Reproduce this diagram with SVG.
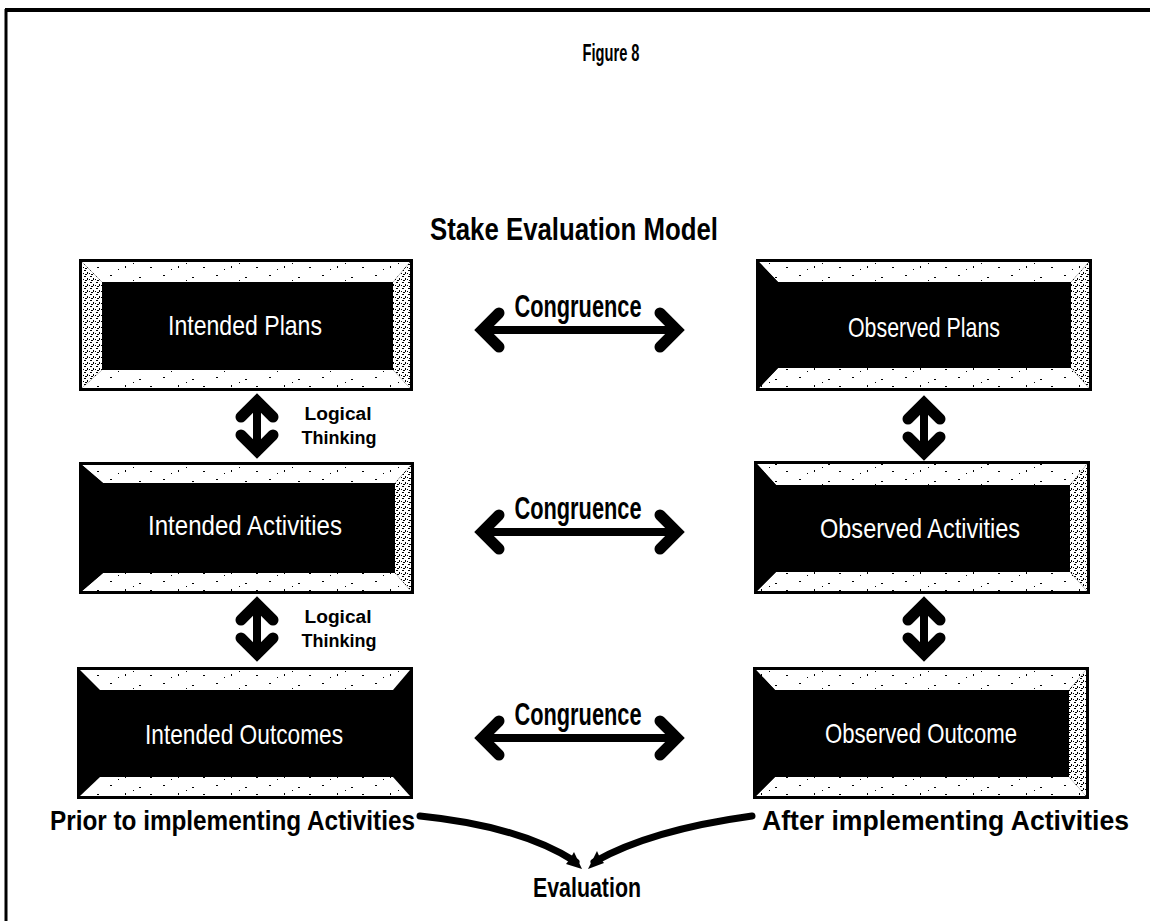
<svg xmlns="http://www.w3.org/2000/svg" width="1150" height="921" viewBox="0 0 1150 921">
<defs>
<pattern id="speck" width="6" height="6" patternUnits="userSpaceOnUse">
<rect width="6" height="6" fill="#fff"/>
<rect x="0" y="0" width="2" height="1" fill="#000"/>
<rect x="3" y="2" width="1" height="2" fill="#000"/>
<rect x="1" y="4" width="2" height="1" fill="#000"/>
<rect x="5" y="3" width="1" height="1" fill="#000"/>
</pattern>
<pattern id="sparse" width="53" height="17" patternUnits="userSpaceOnUse">
<rect width="53" height="17" fill="#fff"/>
<rect x="4" y="3" width="2" height="1" fill="#000"/>
<rect x="19" y="11" width="1" height="2" fill="#000"/>
<rect x="33" y="5" width="2" height="1" fill="#000"/>
<rect x="12" y="14" width="1" height="1" fill="#000"/>
<rect x="44" y="12" width="2" height="1" fill="#000"/>
<rect x="27" y="8" width="1" height="1" fill="#000"/>
</pattern>
<style>
.frame{fill:none;stroke:#000}
.outer{fill:#000;stroke:#000;stroke-width:2}
.bev{fill:url(#sparse)}
.side{fill:url(#speck)}
.dark{fill:#000}
.inner{fill:#000}
.lbl{font-family:"Liberation Sans",Arial,sans-serif;font-size:28px;fill:#fff;text-anchor:middle}
.bold{font-family:"Liberation Sans",Arial,sans-serif;font-weight:bold;fill:#000}
.shaft{stroke:#000;stroke-width:8;fill:none}
.head{stroke:#000;stroke-width:11;fill:none;stroke-linecap:round;stroke-linejoin:miter}
.curve{stroke:#000;stroke-width:7;fill:none;stroke-linecap:round}
</style>
</defs>
<rect width="1150" height="921" fill="#fff"/>
<g id="border">
<line class="frame" x1="5" y1="10" x2="1150" y2="10" stroke-width="4"/>
<line class="frame" x1="6" y1="9" x2="6" y2="921" stroke-width="3"/>
</g>
<g id="titles">
<text class="bold" x="611" y="61" font-size="24" text-anchor="middle" textLength="57" lengthAdjust="spacingAndGlyphs">Figure 8</text>
<text class="bold" x="574" y="240" font-size="31" text-anchor="middle" textLength="288" lengthAdjust="spacingAndGlyphs">Stake Evaluation Model</text>
</g>
<g id="intended-plans">
<rect class="outer" x="80" y="260" width="332" height="130"/>
<polygon class="bev" points="82,262 410,262 393,282 102,282"/>
<polygon class="bev" points="82,388 410,388 393,370 102,370"/>
<polygon class="side" points="82,262 102,282 102,370 82,388"/>
<polygon class="side" points="410,262 393,282 393,370 410,388"/>
<rect class="inner" x="102" y="282" width="291" height="88"/>
<text class="lbl" x="245" y="335" textLength="154" lengthAdjust="spacingAndGlyphs">Intended Plans</text>
</g>
<g id="intended-activities">
<rect class="outer" x="80" y="463" width="333" height="130"/>
<polygon class="bev" points="82,465 411,465 395,483 103,483"/>
<polygon class="bev" points="82,591 411,591 395,573 103,573"/>
<polygon class="dark" points="82,465 103,483 103,573 82,591"/>
<polygon class="side" points="411,465 395,483 395,573 411,591"/>
<rect class="inner" x="103" y="483" width="292" height="90"/>
<text class="lbl" x="245" y="535" textLength="194" lengthAdjust="spacingAndGlyphs">Intended Activities</text>
</g>
<g id="intended-outcomes">
<rect class="outer" x="78" y="668" width="334" height="130"/>
<polygon class="bev" points="80,670 410,670 393,690 100,690"/>
<polygon class="bev" points="80,796 410,796 393,777 100,777"/>
<rect class="inner" x="80" y="690" width="330" height="87"/>
<text class="lbl" x="244" y="744" textLength="198" lengthAdjust="spacingAndGlyphs">Intended Outcomes</text>
</g>
<g id="observed-plans">
<rect class="outer" x="757" y="260" width="334" height="130"/>
<polygon class="bev" points="759,262 1089,262 1071,282 778,282"/>
<polygon class="bev" points="759,388 1089,388 1071,368 778,368"/>
<polygon class="dark" points="759,262 778,282 778,368 759,388"/>
<polygon class="side" points="1089,262 1071,282 1071,368 1089,388"/>
<rect class="inner" x="778" y="282" width="293" height="86"/>
<text class="lbl" x="924" y="337" textLength="152" lengthAdjust="spacingAndGlyphs">Observed Plans</text>
</g>
<g id="observed-activities">
<rect class="outer" x="755" y="462" width="334" height="131"/>
<polygon class="bev" points="757,464 1087,464 1070,485 776,485"/>
<polygon class="bev" points="757,591 1087,591 1070,572 776,572"/>
<polygon class="dark" points="757,464 776,485 776,572 757,591"/>
<polygon class="side" points="1087,464 1070,485 1070,572 1087,591"/>
<rect class="inner" x="776" y="485" width="294" height="87"/>
<text class="lbl" x="920" y="538" textLength="200" lengthAdjust="spacingAndGlyphs">Observed Activities</text>
</g>
<g id="observed-outcome">
<rect class="outer" x="754" y="668" width="334" height="130"/>
<polygon class="bev" points="756,670 1086,670 1069,690 775,690"/>
<polygon class="bev" points="756,796 1086,796 1069,777 775,777"/>
<polygon class="dark" points="756,670 775,690 775,777 756,796"/>
<polygon class="side" points="1086,670 1069,690 1069,777 1086,796"/>
<rect class="inner" x="775" y="690" width="294" height="87"/>
<text class="lbl" x="921" y="743" textLength="192" lengthAdjust="spacingAndGlyphs">Observed Outcome</text>
</g>
<g id="connectors">
<g id="congruence-1">
<line class="shaft" x1="482" y1="330" x2="677" y2="330"/>
<path class="head" d="M499 313 L482 330 L499 347"/>
<path class="head" d="M660 313 L677 330 L660 347"/>
</g>
<g id="congruence-2">
<line class="shaft" x1="482" y1="532" x2="677" y2="532"/>
<path class="head" d="M499 515 L482 532 L499 549"/>
<path class="head" d="M660 515 L677 532 L660 549"/>
</g>
<g id="congruence-3">
<line class="shaft" x1="482" y1="738" x2="677" y2="738"/>
<path class="head" d="M499 721 L482 738 L499 755"/>
<path class="head" d="M660 721 L677 738 L660 755"/>
</g>
<g id="logical-1">
<line class="shaft" x1="257" y1="402" x2="257" y2="450"/>
<path class="head" d="M241 417 L257 401 L273 417"/>
<path class="head" d="M241 435 L257 451 L273 435"/>
</g>
<g id="logical-2">
<line class="shaft" x1="257" y1="605" x2="257" y2="653"/>
<path class="head" d="M241 620 L257 604 L273 620"/>
<path class="head" d="M241 638 L257 654 L273 638"/>
</g>
<g id="observed-1">
<line class="shaft" x1="924" y1="404" x2="924" y2="452"/>
<path class="head" d="M908 419 L924 403 L940 419"/>
<path class="head" d="M908 437 L924 453 L940 437"/>
</g>
<g id="observed-2">
<line class="shaft" x1="924" y1="605" x2="924" y2="653"/>
<path class="head" d="M908 620 L924 604 L940 620"/>
<path class="head" d="M908 638 L924 654 L940 638"/>
</g>
<g id="to-evaluation">
<path class="curve" d="M420 816 Q520 826 576 862"/>
<polygon points="582,869 566,864 570,859 574,852" fill="#000"/>
<path class="curve" d="M752 816 Q650 830 594 862"/>
<polygon points="588,869 604,863 600,858 597,851" fill="#000"/>
</g>
</g>
<g id="connector-labels">
<text class="bold" x="578" y="317" font-size="31" text-anchor="middle" textLength="127" lengthAdjust="spacingAndGlyphs">Congruence</text>
<text class="bold" x="578" y="519" font-size="31" text-anchor="middle" textLength="127" lengthAdjust="spacingAndGlyphs">Congruence</text>
<text class="bold" x="578" y="725" font-size="31" text-anchor="middle" textLength="127" lengthAdjust="spacingAndGlyphs">Congruence</text>
<text class="bold" x="338" y="420" font-size="18" text-anchor="middle" textLength="67" lengthAdjust="spacingAndGlyphs">Logical</text>
<text class="bold" x="339" y="444" font-size="18" text-anchor="middle" textLength="75" lengthAdjust="spacingAndGlyphs">Thinking</text>
<text class="bold" x="338" y="623" font-size="18" text-anchor="middle" textLength="67" lengthAdjust="spacingAndGlyphs">Logical</text>
<text class="bold" x="339" y="647" font-size="18" text-anchor="middle" textLength="75" lengthAdjust="spacingAndGlyphs">Thinking</text>
<text class="bold" x="50" y="830" font-size="27" textLength="365" lengthAdjust="spacingAndGlyphs">Prior to implementing Activities</text>
<text class="bold" x="762" y="830" font-size="27" textLength="367" lengthAdjust="spacingAndGlyphs">After implementing Activities</text>
<text class="bold" x="587" y="897" font-size="27" text-anchor="middle" textLength="108" lengthAdjust="spacingAndGlyphs">Evaluation</text>
</g>
</svg>
